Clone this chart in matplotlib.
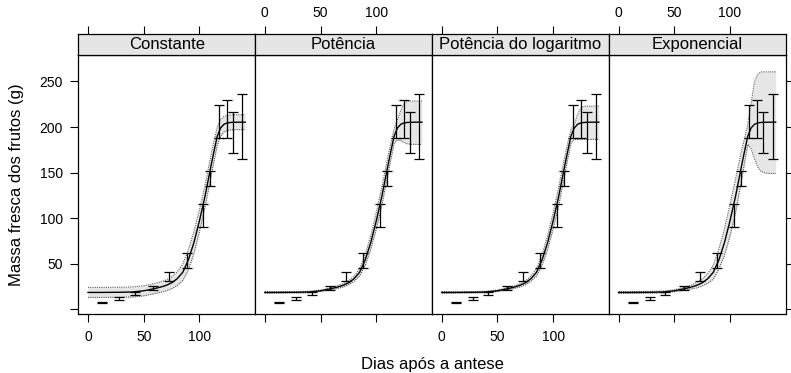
import matplotlib
matplotlib.use("Agg")
import matplotlib.pyplot as plt

plt.rcParams['font.family'] = ['Liberation Sans', 'DejaVu Sans']

panels = ["Constante", "Potência", "Potência do logaritmo", "Exponencial"]

# observed means with error bars
obs_day = [13, 28, 42, 58.5, 73, 88.4, 103.3, 109.6, 117.5, 124.6, 130, 138.4]
obs_mean = [7.4, 12.0, 17.3, 23.5, 36.3, 53.7, 102.9, 143.8, 205.6, 208.8, 193.9, 200.3]
obs_err = [0.8, 1.8, 2.0, 2.4, 4.9, 8.4, 12.3, 8.2, 18.1, 20.6, 22.8, 35.5]

# fitted curve (same in all panels)
fit_day = [0, 10, 20, 30, 40, 50, 55, 60, 65, 70, 75, 80, 85, 90, 95, 100,
           105, 110, 113, 116, 119, 122, 125, 128, 132, 136, 141]
fit_mean = [18.5, 18.5, 18.6, 18.7, 19.0, 20.3, 21.5, 22.8, 24.3, 26.2, 29.0,
            33.5, 40.5, 54, 73, 97, 124, 155, 173, 190, 199, 203, 204.5, 205,
            205.2, 205.3, 205.3]

# confidence bands, one pair per panel
const_lo = [13.0, 13.0, 13.1, 13.2, 13.5, 14.8, 16.0, 17.2, 18.5, 20.2, 22.5,
            26.0, 31.5, 43, 61, 85, 112, 143, 162, 180, 190, 194.5, 196.3,
            196.8, 197, 197.1, 197.1]
const_hi = [24.0, 24.0, 24.1, 24.2, 24.5, 25.8, 27.0, 28.4, 30.1, 32.2, 35.5,
            41, 49.5, 65, 85, 109, 136, 167, 184, 200, 208, 211.5, 212.7,
            213.2, 213.4, 213.5, 213.5]
pot_lo = [17.7, 17.7, 17.8, 17.9, 18.2, 19.5, 20.5, 21.6, 22.8, 24.4, 26.8,
          30.7, 36.5, 48, 65.5, 88, 114, 145, 164, 182, 186, 185, 183, 181.5,
          181, 180.9, 180.9]
pot_hi = [19.3, 19.3, 19.4, 19.5, 19.8, 21.1, 22.5, 24.0, 25.8, 28.0, 31.2,
          36.3, 44.5, 60, 80.5, 106, 134, 165, 182, 198, 208, 218, 226, 228.4,
          228.4, 228.4, 228.4]
potlog_lo = [17.7, 17.7, 17.8, 17.9, 18.2, 19.5, 20.5, 21.6, 22.8, 24.4, 26.8,
             30.7, 36.5, 48, 65.5, 88, 114, 145, 164, 182, 186.4, 186.4, 186.4,
             186.4, 186.4, 186.4, 186.4]
potlog_hi = [19.3, 19.3, 19.4, 19.5, 19.8, 21.1, 22.5, 24.0, 25.8, 28.0, 31.2,
             36.3, 44.5, 60, 80.5, 106, 134, 165, 182, 197, 203, 214, 221,
             222.9, 222.9, 222.9, 222.9]
exp_lo = [17.5, 17.5, 17.6, 17.7, 18.0, 19.3, 20.2, 21.2, 22.3, 23.5, 25.5,
          28.5, 33.0, 44, 59, 80, 106, 139, 160, 181, 176, 165, 156, 151,
          149.5, 149, 149]
exp_hi = [19.5, 19.5, 19.6, 19.7, 20.0, 21.3, 22.8, 24.4, 26.5, 29.2, 33.0,
          39.0, 48.5, 66, 88, 115, 143, 172, 187, 203, 226, 250, 258, 260.5,
          260.5, 260.5, 260.5]

bands = [(const_lo, const_hi), (pot_lo, pot_hi), (potlog_lo, potlog_hi), (exp_lo, exp_hi)]

x_ticks = [0, 50, 100]
y_ticks = [0, 50, 100, 150, 200, 250]
y_ticklabels = ["", "50", "100", "150", "200", "250"]

W, H = 791, 373
fig = plt.figure(figsize=(W / 100, H / 100), dpi=100)

left, right = 78.3, 785.7
pw = (right - left) / 4
p_bottom, p_top, s_top = 314.3, 55.0, 34.3

for i, name in enumerate(panels):
    x0 = (left + i * pw) / W
    ax = fig.add_axes([x0, 1 - p_bottom / H, pw / W, (p_bottom - p_top) / H])
    st = fig.add_axes([x0, 1 - p_top / H, pw / W, (p_top - s_top) / H])

    lo, hi = bands[i]
    ax.fill_between(fit_day, lo, hi, color='#e6e6e6', lw=0)
    ax.plot(fit_day, lo, color='0.35', lw=0.8, ls=(0, (1, 1)))
    ax.plot(fit_day, hi, color='0.35', lw=0.8, ls=(0, (1, 1)))
    ax.plot(fit_day, fit_mean, color='black', lw=1)
    ax.errorbar(obs_day, obs_mean, yerr=obs_err, fmt='none', ecolor='black',
                elinewidth=0.9, capsize=3.6, capthick=0.9)

    ax.set_xlim(-8.7, 150)
    ax.set_ylim(-5.5, 279)
    ax.set_xticks(x_ticks)
    ax.set_yticks(y_ticks)
    ax.tick_params(direction='out', length=6, width=0.8, labelsize=10, pad=5)
    if i in (0, 2):
        ax.set_xticklabels([str(t) for t in x_ticks])
    else:
        ax.set_xticklabels([])
    if i == 0:
        ax.set_yticklabels(y_ticklabels)
    elif i == 3:
        ax.yaxis.tick_right()
        ax.set_yticklabels([])
    else:
        ax.tick_params(axis='y', length=0, labelleft=False)
    for sp in ax.spines.values():
        sp.set_linewidth(0.9)

    # strip on top of each panel
    st.set_facecolor('#e5e5e5')
    st.set_xlim(-8.7, 150)
    st.set_yticks([])
    st.xaxis.tick_top()
    st.set_xticks(x_ticks)
    st.tick_params(direction='out', length=6, width=0.8, labelsize=10, pad=4)
    if i in (1, 3):
        st.set_xticklabels([str(t) for t in x_ticks])
    else:
        st.set_xticklabels([])
    for sp in st.spines.values():
        sp.set_linewidth(0.9)
    st.text(0.5, 0.5, name, transform=st.transAxes, ha='center', va='center',
            fontsize=12)

fig.text((left + right) / 2 / W, 1 - 365 / H, "Dias após a antese",
         ha='center', va='center', fontsize=12)
fig.text(17 / W, 1 - 185 / H, "Massa fresca dos frutos (g)", rotation=90,
         ha='center', va='center', fontsize=12)

fig.savefig("out.png", dpi=100)
